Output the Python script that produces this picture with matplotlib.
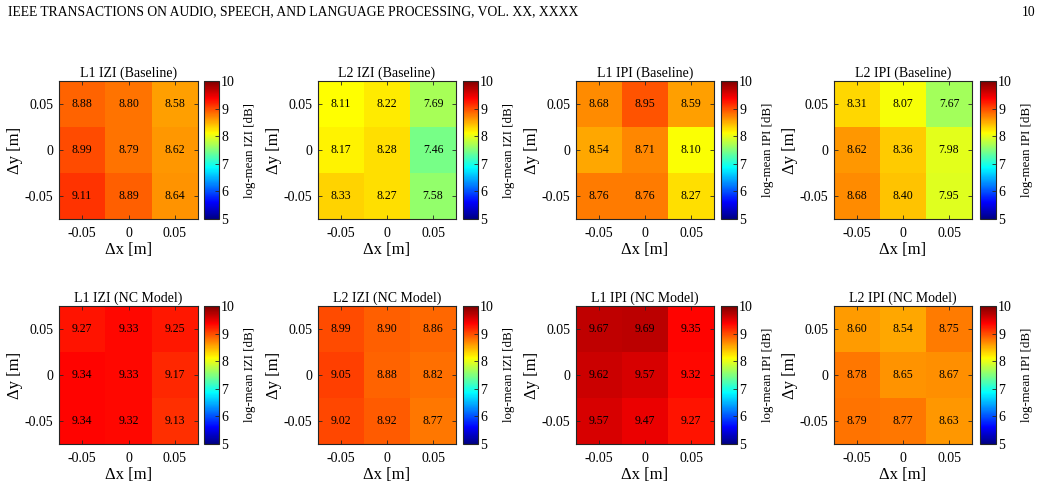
import numpy as np
import matplotlib
matplotlib.use("Agg")
import matplotlib.pyplot as plt
from matplotlib.colors import ListedColormap

plt.rcParams['font.family'] = ['Liberation Serif', 'DejaVu Serif']

W, H = 1041, 491

header = "IEEE TRANSACTIONS ON AUDIO, SPEECH, AND LANGUAGE PROCESSING, VOL. XX, XXXX"
page_no = "10"

dx_ticks = [-0.05, 0, 0.05]
dy_ticks = [0.05, 0, -0.05]          # rows from top to bottom
tick_labels = ["-0.05", "0", "0.05"]

titles = [
    "L1 IZI (Baseline)", "L2 IZI (Baseline)", "L1 IPI (Baseline)", "L2 IPI (Baseline)",
    "L1 IZI (NC Model)", "L2 IZI (NC Model)", "L1 IPI (NC Model)", "L2 IPI (NC Model)",
]
cbar_labels = ["log-mean IZI [dB]", "log-mean IZI [dB]", "log-mean IPI [dB]", "log-mean IPI [dB]"] * 2

# values: rows = dy (0.05, 0, -0.05), cols = dx (-0.05, 0, 0.05)
l1_izi_base = [[8.88, 8.80, 8.58], [8.99, 8.79, 8.62], [9.11, 8.89, 8.64]]
l2_izi_base = [[8.11, 8.22, 7.69], [8.17, 8.28, 7.46], [8.33, 8.27, 7.58]]
l1_ipi_base = [[8.68, 8.95, 8.59], [8.54, 8.71, 8.10], [8.76, 8.76, 8.27]]
l2_ipi_base = [[8.31, 8.07, 7.67], [8.62, 8.36, 7.98], [8.68, 8.40, 7.95]]
l1_izi_nc = [[9.27, 9.33, 9.25], [9.34, 9.33, 9.17], [9.34, 9.32, 9.13]]
l2_izi_nc = [[8.99, 8.90, 8.86], [9.05, 8.88, 8.82], [9.02, 8.92, 8.77]]
l1_ipi_nc = [[9.67, 9.69, 9.35], [9.62, 9.57, 9.32], [9.57, 9.47, 9.27]]
l2_ipi_nc = [[8.60, 8.54, 8.75], [8.78, 8.65, 8.67], [8.79, 8.77, 8.63]]

panels = [l1_izi_base, l2_izi_base, l1_ipi_base, l2_ipi_base,
          l1_izi_nc, l2_izi_nc, l1_ipi_nc, l2_ipi_nc]

vmin, vmax = 5, 10
cbar_ticks = [5, 6, 7, 8, 9, 10]


def matlab_jet(n=256):
    m = int(np.ceil(n / 4))
    u = np.concatenate([np.arange(1, m + 1) / m, np.ones(m - 1), np.arange(m, 0, -1) / m])
    g = int(np.ceil(m / 2)) - (1 if n % 4 == 1 else 0) + np.arange(1, len(u) + 1)
    r = g + m
    b = g - m
    g = g[g <= n]
    r = r[r <= n]
    b = b[b >= 1]
    J = np.zeros((n, 3))
    J[r - 1, 0] = u[:len(r)]
    J[g - 1, 1] = u[:len(g)]
    J[b - 1, 2] = u[len(u) - len(b):]
    return ListedColormap(J, name='matlab_jet')


cmap = matlab_jet(256)

fig = plt.figure(figsize=(W / 100, H / 100), dpi=100)


def rect(x0, x1, y0, y1):
    return [x0 / W, 1 - y1 / H, (x1 - x0) / W, (y1 - y0) / H]


ax_x = [(59, 198), (318, 456), (576, 714), (834, 972)]
cb_x = [(204, 219), (463, 478), (721, 737), (980, 996)]
row_y = [(81, 219), (306, 444)]

fig.text(8 / W, 1 - 12 / H, header, ha='left', va='center', fontsize=9.8)
fig.text(1035 / W, 1 - 12 / H, page_no, ha='right', va='center', fontsize=9.8)

for i, vals in enumerate(panels):
    r, c = divmod(i, 4)
    arr = np.array(vals)
    ax = fig.add_axes(rect(*ax_x[c], *row_y[r]))
    im = ax.imshow(arr, cmap=cmap, vmin=vmin, vmax=vmax, origin='upper',
                   extent=[-0.075, 0.075, -0.075, 0.075], aspect='auto',
                   interpolation='nearest')
    for ri, yv in enumerate(dy_ticks):
        for ci, xv in enumerate(dx_ticks):
            ax.text(xv, yv, f"{arr[ri, ci]:.2f}", ha='center', va='center', fontsize=8.5)
    ax.set_xticks(dx_ticks)
    ax.set_xticklabels(tick_labels)
    ax.set_yticks(dx_ticks)
    ax.set_yticklabels(tick_labels)
    ax.tick_params(direction='in', length=3, width=0.6, labelsize=10,
                   top=True, right=True, colors='#262626', labelcolor='black')
    ax.tick_params(axis='x', pad=6)
    ax.tick_params(axis='y', pad=4)
    for s in ax.spines.values():
        s.set_linewidth(0.8)
        s.set_color('#262626')
    ax.set_title(titles[i], fontsize=10, pad=3)
    ax.set_xlabel("Δx [m]", fontsize=12, labelpad=1)
    ax.set_ylabel("Δy [m]", fontsize=12, labelpad=1)

    cax = fig.add_axes(rect(*cb_x[c], *row_y[r]))
    cb = fig.colorbar(im, cax=cax, ticks=cbar_ticks)
    cb.outline.set_linewidth(0.8)
    cb.outline.set_edgecolor('#262626')
    cax.tick_params(direction='in', length=3, width=0.6, labelsize=10, colors='#262626',
                    labelcolor='black', pad=1.5)
    cb.set_label(cbar_labels[i], fontsize=9.3, labelpad=6.5)

fig.savefig("out.png", dpi=100)
